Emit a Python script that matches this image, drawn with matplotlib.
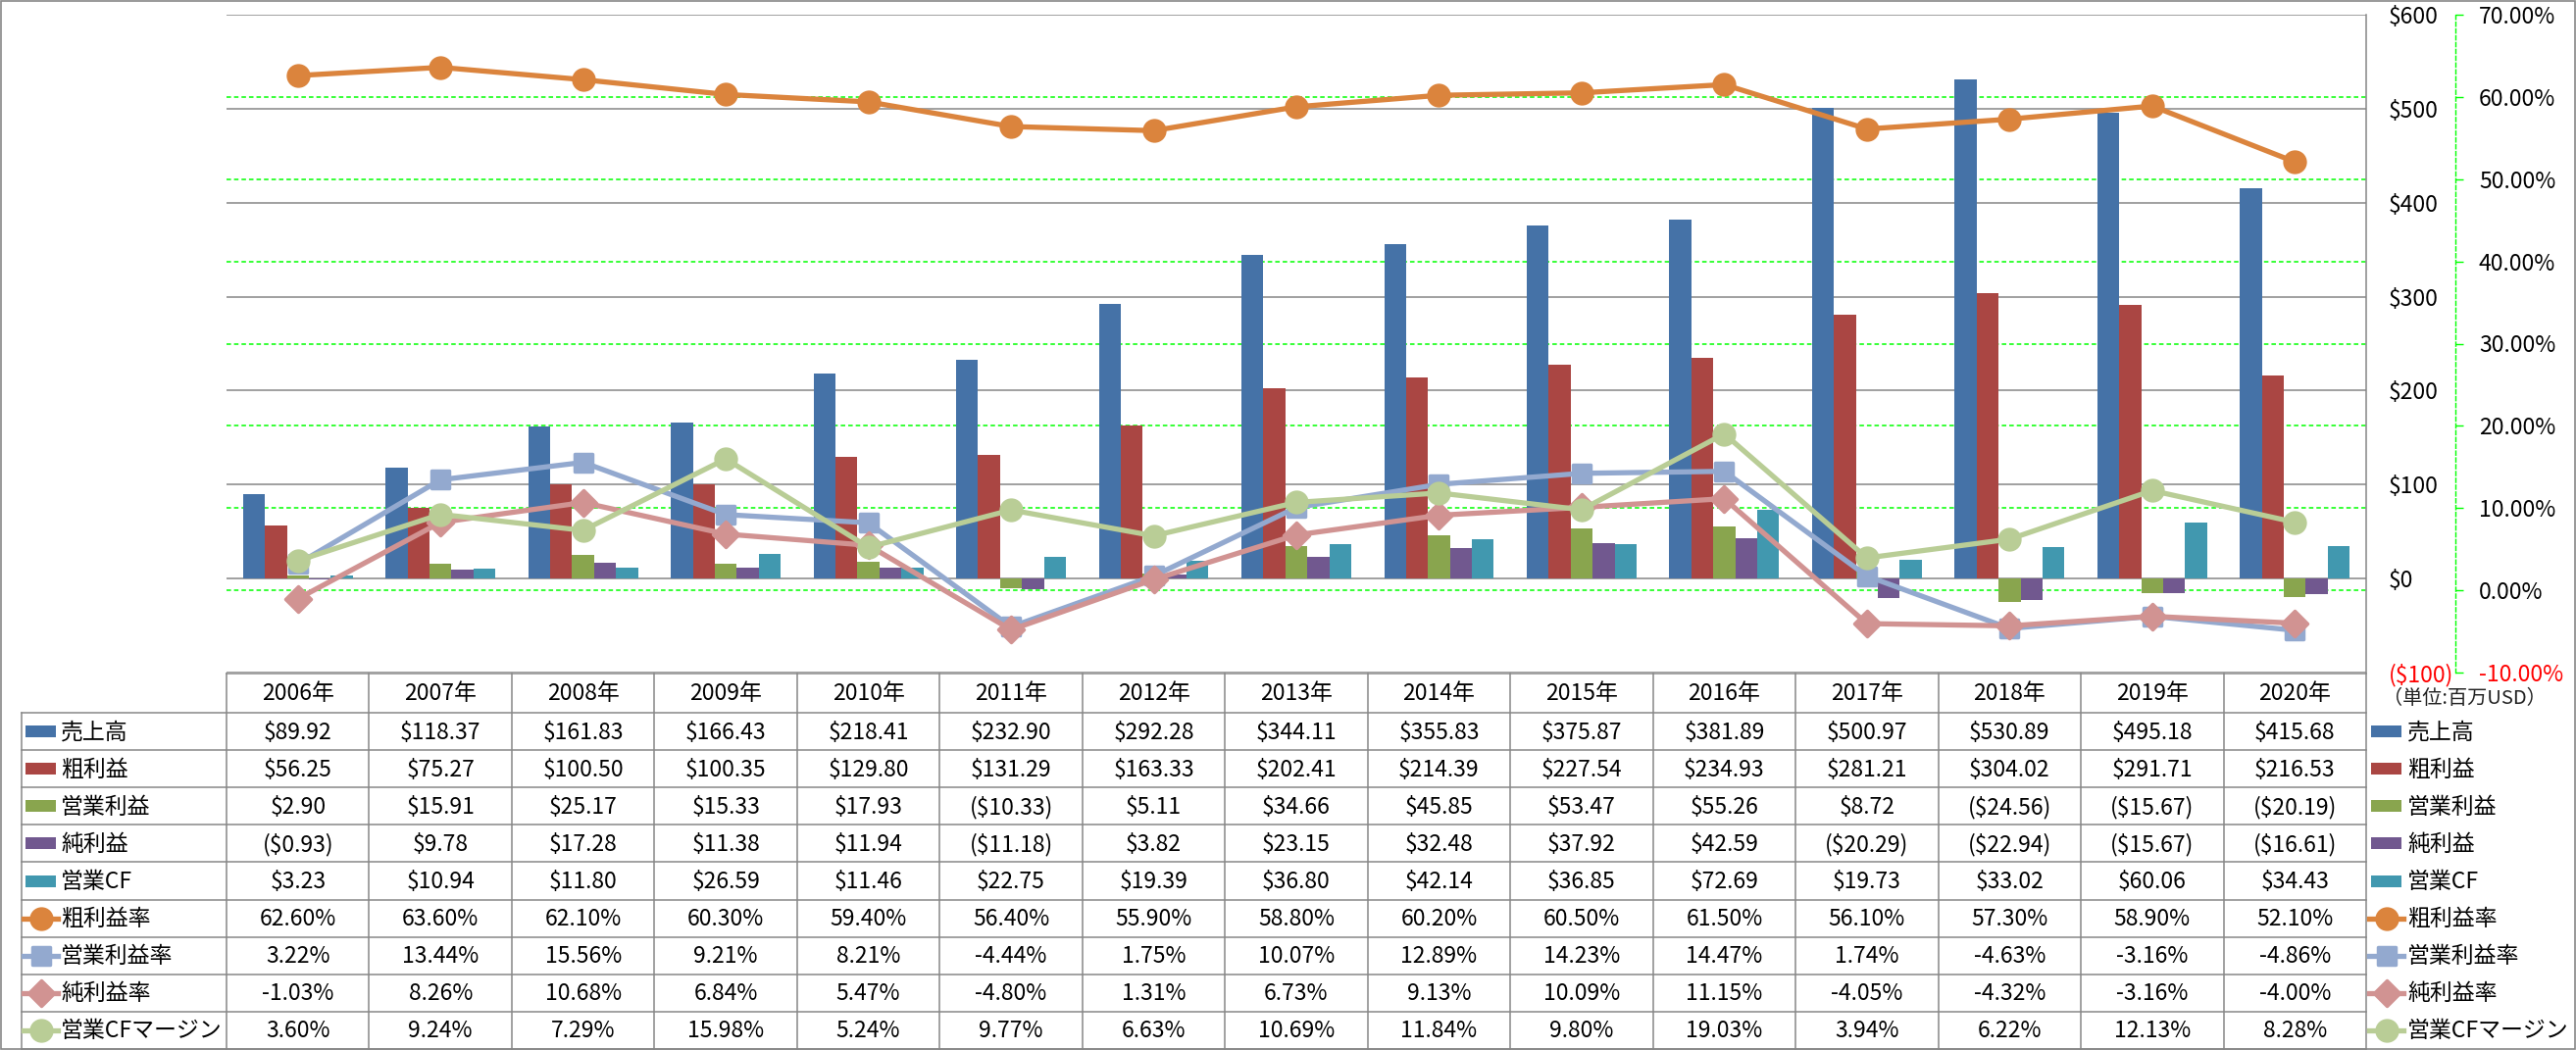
import matplotlib
matplotlib.use('Agg')
import matplotlib.pyplot as plt
from matplotlib.transforms import Affine2D, blended_transform_factory
from matplotlib.lines import Line2D
from matplotlib.patches import Rectangle
from matplotlib.markers import MarkerStyle
import numpy as np

plt.rcParams['font.family'] = ['Noto Sans CJK JP', 'DejaVu Sans']

# ---------------- data ----------------
years = ['2006年', '2007年', '2008年', '2009年', '2010年', '2011年', '2012年', '2013年',
         '2014年', '2015年', '2016年', '2017年', '2018年', '2019年', '2020年']
revenue = [89.92, 118.37, 161.83, 166.43, 218.41, 232.90, 292.28, 344.11,
           355.83, 375.87, 381.89, 500.97, 530.89, 495.18, 415.68]
gross_profit = [56.25, 75.27, 100.50, 100.35, 129.80, 131.29, 163.33, 202.41,
                214.39, 227.54, 234.93, 281.21, 304.02, 291.71, 216.53]
op_income = [2.90, 15.91, 25.17, 15.33, 17.93, -10.33, 5.11, 34.66,
             45.85, 53.47, 55.26, 8.72, -24.56, -15.67, -20.19]
net_income = [-0.93, 9.78, 17.28, 11.38, 11.94, -11.18, 3.82, 23.15,
              32.48, 37.92, 42.59, -20.29, -22.94, -15.67, -16.61]
op_cf = [3.23, 10.94, 11.80, 26.59, 11.46, 22.75, 19.39, 36.80,
         42.14, 36.85, 72.69, 19.73, 33.02, 60.06, 34.43]
gross_margin = [62.60, 63.60, 62.10, 60.30, 59.40, 56.40, 55.90, 58.80,
                60.20, 60.50, 61.50, 56.10, 57.30, 58.90, 52.10]
op_margin = [3.22, 13.44, 15.56, 9.21, 8.21, -4.44, 1.75, 10.07,
             12.89, 14.23, 14.47, 1.74, -4.63, -3.16, -4.86]
net_margin = [-1.03, 8.26, 10.68, 6.84, 5.47, -4.80, 1.31, 6.73,
              9.13, 10.09, 11.15, -4.05, -4.32, -3.16, -4.00]
cf_margin = [3.60, 9.24, 7.29, 15.98, 5.24, 9.77, 6.63, 10.69,
             11.84, 9.80, 19.03, 3.94, 6.22, 12.13, 8.28]

bar_names = ['売上高', '粗利益', '営業利益', '純利益', '営業CF']
line_names = ['粗利益率', '営業利益率', '純利益率', '営業CFマージン']
dollar_ticks = [-100, 0, 100, 200, 300, 400, 500, 600]
pct_ticks = [-10, 0, 10, 20, 30, 40, 50, 60, 70]
unit_label = '（単位:百万USD）'

# ---------------- styles ----------------
bar_colors = ['#4572A7', '#AA4643', '#89A54E', '#71588F', '#4198AF']
line_colors = ['#DB843D', '#93A9CF', '#D19392', '#B9CD96']
line_markers = [MarkerStyle('o'), MarkerStyle('s', joinstyle='round'),
                MarkerStyle('D', joinstyle='round'), MarkerStyle('o')]
line_ms = [15, 13, 13, 15]
gray = '#868686'
green = '#00FF00'
FS = 16.5

W, H = 2627, 1071
fig = plt.figure(figsize=(W / 100, H / 100), dpi=100)
L, R, T, B = 231, 2413, 15, 686
ax = fig.add_axes([L / W, 1 - B / H, (R - L) / W, (B - T) / H])
ax2 = ax.twinx()

n = len(years)
x = np.arange(n)
bw = 1 / 6.5
bar_series = [revenue, gross_profit, op_income, net_income, op_cf]
for i, (vals, c) in enumerate(zip(bar_series, bar_colors)):
    ax.bar(x + (i - 2) * bw, vals, width=bw, color=c, zorder=2, linewidth=0)

line_series = [gross_margin, op_margin, net_margin, cf_margin]
for vals, c, m, ms in zip(line_series, line_colors, line_markers, line_ms):
    ax2.plot(x, vals, color=c, lw=3.8, marker=m, ms=ms, mec=c, mfc=c, mew=2.5,
             zorder=3, solid_joinstyle='round')

ax.set_xlim(-0.5, n - 0.5)
ax.set_ylim(-100, 600)
ax2.set_ylim(-10, 70)

# green gridlines for the percent axis (behind bars)
gt = blended_transform_factory(ax.transAxes, ax2.transData)
for p in pct_ticks[1:-1]:
    ax.plot([0, 1], [p, p], transform=gt, color=green, lw=1.1, ls=(0, (3, 2)), zorder=1)

# primary ($) axis on the right
def fmt_dollar(v):
    return f'(${abs(v):,.0f})' if v < 0 else f'${v:,.0f}'

ax.set_yticks(dollar_ticks, [fmt_dollar(v) for v in dollar_ticks])
ax.yaxis.tick_right()
ax.tick_params(axis='y', length=0, pad=16.5, labelsize=FS)
ax.set_xticks([])
for sp in ['left', 'top', 'bottom']:
    ax.spines[sp].set_visible(False)
ax.spines['right'].set_color(gray)
ax.spines['right'].set_linewidth(1.1)
ax.grid(axis='y', color=gray, lw=1.1, zorder=0.8)
ax.set_axisbelow(True)
for lbl, v in zip(ax.get_yticklabels(), dollar_ticks):
    if v < 0:
        lbl.set_color('red')

# secondary (%) axis
ax2.set_yticks(pct_ticks, [f'{v:.2f}%' for v in pct_ticks])
for sp in ['left', 'top', 'bottom']:
    ax2.spines[sp].set_visible(False)
ax2.spines['right'].set_position(('outward', 65.5))
ax2.spines['right'].set_color(green)
ax2.spines['right'].set_linestyle((0, (3, 2)))
ax2.spines['right'].set_linewidth(1.0)
ax2.tick_params(axis='y', direction='out', length=5.8, width=1.0, color=green,
                pad=11.5, labelsize=FS)
for lbl, v in zip(ax2.get_yticklabels(), pct_ticks):
    if v < 0:
        lbl.set_color('red')

# ---------------- data table ----------------
pix = Affine2D().scale(1 / W, -1 / H).translate(0, 1) + fig.transFigure
bt = blended_transform_factory(ax.transData, pix)
tc = '#878787'
hdr_top, hdr_bot, tbl_bot = 687, 727, 1070
rh = (tbl_bot - hdr_bot) / 9

def add_line(xs, ys, tr, **kw):
    fig.add_artist(Line2D(xs, ys, transform=tr, **kw))

add_line([-0.5, n - 0.5], [hdr_top, hdr_top], bt, color=tc, lw=1.1)
for k in range(10):
    yk = hdr_bot + k * rh
    add_line([22, R], [yk, yk], pix, color=tc, lw=1.1)
for i in range(n + 1):
    add_line([i - 0.5, i - 0.5], [hdr_top, tbl_bot], bt, color=tc, lw=1.1)
add_line([22, 22], [hdr_bot, tbl_bot], pix, color=tc, lw=1.1)

for i, yr in enumerate(years):
    fig.text(i, (hdr_top + hdr_bot) / 2, yr, transform=bt, ha='center', va='center',
             fontsize=FS)

def fmt_money(v):
    return f'(${abs(v):,.2f})' if v < 0 else f'${v:,.2f}'

rows = [[fmt_money(v) for v in s] for s in bar_series] + \
       [[f'{v:.2f}%' for v in s] for s in line_series]
for k, row in enumerate(rows):
    yc = hdr_bot + (k + 0.5) * rh
    for i, s in enumerate(row):
        fig.text(i, yc + 1, s, transform=bt, ha='center', va='center', fontsize=FS)

# legend keys (left in table and right of table)
all_names = bar_names + line_names
for k, name in enumerate(all_names):
    yc = hdr_bot + (k + 0.5) * rh
    for kx, tx in [(26, 62), (2418, 2455)]:
        if k < 5:
            fig.add_artist(Rectangle((kx, yc - 6), 31, 12, transform=pix,
                                     color=bar_colors[k], lw=0))
        else:
            j = k - 5
            c = line_colors[j]
            add_line([kx - 2, kx + 33], [yc, yc], pix, color=c, lw=3.8)
            add_line([kx + 15.5], [yc], pix, color=c, marker=line_markers[j],
                     ms=line_ms[j], mec=c, mfc=c, mew=2.5, lw=0)
        fig.text(tx, yc + 1, name, transform=pix, ha='left', va='center', fontsize=FS)

fig.text(2430, 712, unit_label, transform=pix, ha='left', va='center',
         fontsize=14.5, color='#222222')

# outer frame
fig.add_artist(Rectangle((1, 1), W - 2.5, H - 2.5, transform=pix, fill=False,
                         edgecolor=tc, lw=1.2))

fig.savefig('out.png', dpi=100)
